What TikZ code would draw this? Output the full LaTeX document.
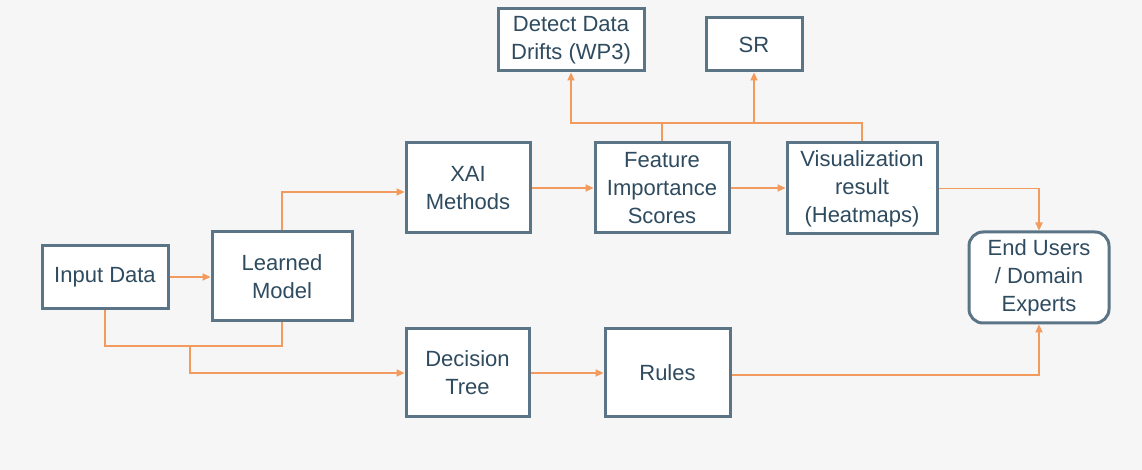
\documentclass[tikz,border=0pt]{standalone}
\usepackage{fontspec}
\setmainfont{Liberation Sans}
\usetikzlibrary{arrows.meta}
\definecolor{bgcol}{HTML}{F6F6F6}
\definecolor{boxline}{HTML}{5B7486}
\definecolor{boxtext}{HTML}{2F4B5F}
\definecolor{flow}{HTML}{F39A5E}
\tikzset{
  box/.style={draw=boxline, line width=1.5pt, fill=white, text=boxtext,
    align=center, font=\fontsize{11pt}{14pt}\selectfont, inner sep=0pt},
  roundbox/.style={box, rounded corners=7pt},
  link/.style={draw=flow, line width=0.75pt},
  arr/.style={link, -{Triangle[length=4pt,width=3.6pt]}}
}
\begin{document}
\begin{tikzpicture}[x=0.5pt, y=-0.5pt]
  % canvas
  \fill[bgcol] (0,0) rectangle (1142,470);
  \useasboundingbox (0,0) rectangle (1142,470);

  % boxes
  \node[box, minimum width=63pt, minimum height=31.5pt] (input) at (105,277) {Input Data};
  \node[box, minimum width=70pt, minimum height=44.5pt] (learned) at (282,276.5) {Learned\\Model};
  \node[box, minimum width=62pt, minimum height=45pt] (xai) at (468,188) {XAI\\Methods};
  \node[box, minimum width=67pt, minimum height=45pt] (feat) at (662,188) {Feature\\Importance\\Scores};
  \node[box, minimum width=75pt, minimum height=45.5pt] (vis) at (862,188.5) {Visualization\\result\\(Heatmaps)};
  \node[roundbox, minimum width=70pt, minimum height=45.5pt] (end) at (1039,277.5) {End Users\\/ Domain\\Experts};
  \node[box, minimum width=73pt, minimum height=31pt] (detect) at (571,40) {Detect Data\\Drifts (WP3)};
  \node[box, minimum width=48pt, minimum height=26.5pt] (sr) at (754,44.5) {SR};
  \node[box, minimum width=61.5pt, minimum height=44pt] (dt) at (467.5,373) {Decision\\Tree};
  \node[box, minimum width=62.5pt, minimum height=44pt] (rules) at (667.5,373) {Rules};

  % junction points
  \coordinate (topbus) at (0,123);
  \coordinate (lowbus) at (0,346);
  \coordinate (dtbranch) at (190,346);

  % main flow
  \draw[arr] (input.east) -- (input.east -| learned.west);
  \draw[arr] (learned.north) |- ([yshift=-2pt]xai.west);
  \draw[arr] (xai.east) -- (feat.west);
  \draw[arr] (feat.east) -- (feat.east -| vis.west);
  \draw[arr] (vis.east) -| (end.north);

  % upper branches
  \draw[arr] (feat.north) -- (feat.north |- topbus) -| (detect.south);
  \draw[link] (vis.north) |- (feat.north |- topbus);
  \draw[arr] (sr.south |- topbus) -- (sr.south);

  % lower branches
  \draw[link] (input.south) -- (input.south |- lowbus) -- (learned.south |- lowbus) -- (learned.south);
  \draw[arr] (dtbranch) |- (dt.west);
  \draw[arr] (dt.east) -- (rules.west);
  \draw[arr] ([yshift=-1pt]rules.east) -| (end.south);
\end{tikzpicture}
\end{document}
